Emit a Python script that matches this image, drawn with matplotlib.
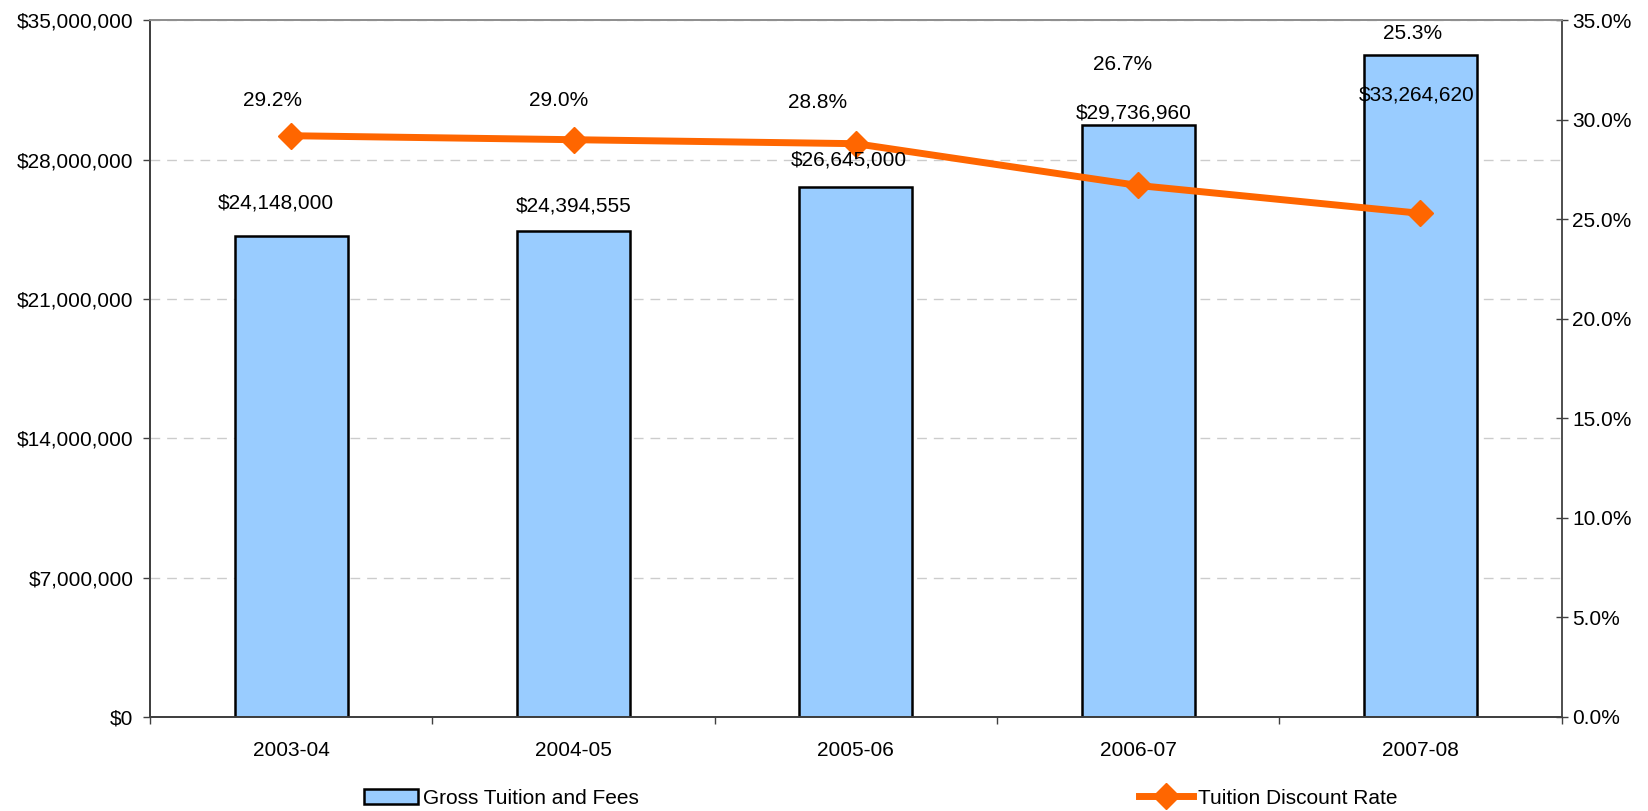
import numpy as np
import matplotlib
matplotlib.use("Agg")
import matplotlib.pyplot as plt
from matplotlib.ticker import FuncFormatter, MultipleLocator

plt.rcParams['font.family'] = ['Liberation Sans', 'DejaVu Sans']
plt.rcParams['font.size'] = 15

years = ["2003-04", "2004-05", "2005-06", "2006-07", "2007-08"]
gross_tuition = [24148000, 24394555, 26645000, 29736960, 33264620]
discount_rate = [29.2, 29.0, 28.8, 26.7, 25.3]

# label offsets in pixels (Excel placed them somewhat arbitrarily)
bar_lbl_off = [(-15, 33), (0, 25), (-7, 27), (-4, 12), (-4, -40)]
pct_lbl_off = [(-19, 35), (-15, 39), (-38, 41), (-16, 121), (-8, 180)]

BAR_COLOR = "#99CCFF"
LINE_COLOR = "#FF6600"
AX_COLOR = "#404040"

fig = plt.figure(figsize=(16.49, 8.11), dpi=100)
ax = fig.add_axes([0.091, 0.116, 0.856, 0.859])
ax2 = ax.twinx()

x = np.arange(len(years))
bars = ax.bar(x, gross_tuition, 0.4, color=BAR_COLOR, edgecolor="black",
              linewidth=1.8, zorder=3, label="Gross Tuition and Fees")
line, = ax2.plot(x, discount_rate, color=LINE_COLOR, lw=5, marker="D",
                 markersize=13, zorder=4, label="Tuition Discount Rate")

ax.set_xlim(-0.5, len(years) - 0.5)
ax.set_ylim(0, 35000000)
ax2.set_ylim(0, 35)
ax.yaxis.set_major_locator(MultipleLocator(7000000))
ax2.yaxis.set_major_locator(MultipleLocator(5))
ax.yaxis.set_major_formatter(FuncFormatter(lambda v, p: "${:,.0f}".format(v)))
ax2.yaxis.set_major_formatter(FuncFormatter(lambda v, p: "{:.1f}%".format(v)))

# gridlines (skip the top one, the frame covers it)
for g in ax.get_yticks()[1:-1]:
    ax.axhline(g, color="#CCCCCC", lw=1, ls=(0, (7, 5)), zorder=1)

ax.set_xticks(x)
ax.set_xticklabels(years)
ax.set_xticks(np.arange(-0.5, len(years)), minor=True)
ax.tick_params(axis="x", which="major", length=0, pad=17)
ax.tick_params(axis="x", which="minor", length=5, color=AX_COLOR, width=1)
ax.tick_params(axis="y", length=5, color=AX_COLOR, width=1, pad=7)
ax2.tick_params(axis="y", direction="inout", length=9, color=AX_COLOR, width=1, pad=3)

for a in (ax, ax2):
    for s in ("left", "right", "bottom"):
        a.spines[s].set_color(AX_COLOR)
        a.spines[s].set_linewidth(1.3)
    a.spines["top"].set_color("#909090")
    a.spines["top"].set_linewidth(1.3)
ax.spines["right"].set_visible(False)

for i, v in enumerate(gross_tuition):
    ax2.annotate("${:,.0f}".format(v), xy=(i, v), xycoords=ax.transData,
                 xytext=bar_lbl_off[i], textcoords="offset pixels",
                 ha="center", va="center", zorder=6)
for i, v in enumerate(discount_rate):
    ax2.annotate("{:.1f}%".format(v), xy=(i, v), xycoords="data",
                 xytext=pct_lbl_off[i], textcoords="offset pixels",
                 ha="center", va="center", zorder=6)

fig.legend([bars, line], ["Gross Tuition and Fees", "Tuition Discount Rate"],
           loc="center", bbox_to_anchor=(0.534, 0.016), ncol=2, frameon=False,
           handlelength=2.6, handletextpad=0.25, columnspacing=24,
           numpoints=1, borderpad=0, fontsize=15)

fig.savefig("out.png", dpi=100)
